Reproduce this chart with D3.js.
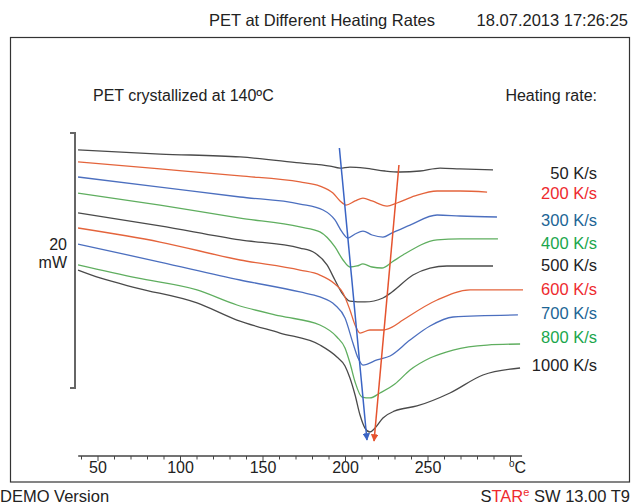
<!DOCTYPE html>
<html>
<head>
<meta charset="utf-8">
<script src="https://cdn.jsdelivr.net/npm/d3@7"></script>
<style>
  html, body { margin: 0; padding: 0; background: #fff; }
  svg { display: block; font-family: "Liberation Sans", Arial, sans-serif; }
</style>
</head>
<body>
<svg id="chart" width="634" height="504"></svg>
<script>
// ---- data (temperature in °C, heat flow in mW, curves offset for display) ----
const rateLabels = ["50 K/s", "200 K/s", "300 K/s", "400 K/s", "500 K/s", "600 K/s", "700 K/s", "800 K/s", "1000 K/s"];
const labelColors = ["#222222", "#ee2a2e", "#1c6595", "#1aa64c", "#222222", "#ee2a2e", "#1c6595", "#1aa64c", "#222222"];
const curveColors = ["#4a4a4a", "#e4643c", "#4c6fbf", "#5fae5f", "#4a4a4a", "#e4643c", "#4c6fbf", "#5fae5f", "#4a4a4a"];
const labelValues = [16.86, 15.29, 13.18, 11.37, 9.65, 7.76, 5.88, 4.0, 1.8];

const temps50 = [37.9, 87.6, 136.1, 172.4, 190.6, 196.7, 202.7, 211.8, 224.0, 233.0, 245.2, 257.3, 269.4, 289.4];
const flow50  = [18.67, 18.35, 18.12, 17.65, 17.41, 17.25, 17.33, 17.25, 17.02, 16.94, 17.02, 17.25, 17.18, 17.10];

const temps200 = [37.9, 87.6, 136.1, 172.4, 184.5, 192.4, 196.7, 200.3, 205.8, 210.6, 216.1, 225.2, 231.2, 242.1, 255.5, 269.4, 285.8];
const flow200  = [17.73, 17.18, 16.63, 16.16, 15.84, 15.29, 14.67, 14.35, 14.67, 14.90, 14.67, 14.27, 14.51, 15.06, 15.45, 15.45, 15.37];

const temps300 = [37.9, 87.6, 136.1, 172.4, 186.4, 193.6, 197.9, 201.5, 205.8, 210.6, 216.1, 222.7, 228.2, 239.1, 255.5, 269.4, 291.8];
const flow300  = [16.55, 15.76, 14.98, 14.43, 13.96, 13.18, 12.24, 11.76, 12.08, 12.31, 12.00, 11.84, 12.16, 12.78, 13.57, 13.49, 13.41];

const temps400 = [37.9, 87.6, 136.1, 172.4, 184.5, 193.6, 198.5, 202.7, 207.0, 210.6, 216.1, 222.1, 228.2, 234.8, 255.5, 269.4, 292.4];
const flow400  = [15.29, 14.35, 13.33, 12.63, 12.24, 11.06, 10.04, 9.49, 9.57, 9.73, 9.49, 9.41, 9.88, 10.43, 11.61, 11.69, 11.69];

const temps500 = [37.9, 87.6, 136.1, 172.4, 181.5, 188.8, 193.6, 197.9, 202.7, 211.8, 222.7, 228.2, 240.9, 251.2, 261.5, 289.4];
const flow500  = [13.73, 12.71, 11.61, 10.98, 10.59, 9.65, 8.47, 7.45, 6.82, 6.75, 7.06, 7.53, 8.86, 9.41, 9.57, 9.57];

const temps600 = [37.9, 87.6, 136.1, 172.4, 184.5, 193.6, 198.5, 202.7, 205.8, 208.8, 214.8, 222.7, 228.2, 234.8, 255.5, 275.5, 307.6];
const flow600  = [12.55, 11.45, 10.04, 9.25, 8.86, 8.16, 7.45, 6.12, 4.94, 4.31, 4.55, 4.55, 4.78, 5.33, 6.90, 7.69, 7.69];

const temps700 = [37.9, 87.6, 136.1, 172.4, 184.5, 193.6, 199.7, 204.5, 207.6, 210.6, 219.1, 227.0, 239.1, 251.2, 265.2, 304.5];
const flow700  = [11.29, 9.88, 8.47, 7.53, 7.14, 6.51, 5.49, 3.53, 2.35, 1.80, 2.20, 2.51, 3.76, 4.86, 5.57, 5.73];

const temps800 = [37.9, 73.6, 110.0, 134.2, 160.3, 184.5, 194.8, 199.7, 202.7, 205.8, 210.0, 214.8, 220.9, 229.9, 239.1, 251.2, 265.2, 285.8, 305.8];
const flow800  = [9.65, 8.63, 7.69, 6.51, 5.65, 4.94, 4.00, 3.14, 1.96, 0.47, -0.71, -0.78, -0.39, 0.31, 1.41, 2.35, 2.98, 3.37, 3.45];

const temps1000 = [37.9, 51.2, 73.6, 110.0, 134.2, 160.3, 184.5, 194.8, 199.7, 202.7, 205.8, 208.8, 211.8, 214.8, 217.9, 222.7, 229.9, 243.3, 263.3, 283.3, 305.8];
const flow1000  = [9.25, 8.63, 7.84, 6.67, 5.33, 4.31, 3.37, 2.43, 1.73, 0.78, -0.55, -2.12, -3.14, -3.45, -3.14, -2.35, -1.80, -1.41, -0.39, 1.02, 1.57];

const seriesTemps = [temps50, temps200, temps300, temps400, temps500, temps600, temps700, temps800, temps1000];
const seriesFlows = [flow50, flow200, flow300, flow400, flow500, flow600, flow700, flow800, flow1000];

// peak guide lines (start and end points: [°C, mW])
const guideFirstPeak = [[196.3, 18.82], [213.0, -4.08]];
const guideSecondPeak = [[232.4, 17.49], [217.3, -4.16]];

const xTickLabels = [50, 100, 150, 200, 250];
const scaleBarValue = 20;

// ---- drawing ----
const svg = d3.select("#chart");

const x = d3.scaleLinear().domain([0, 100]).range([15.5, 180.5]);
const y = d3.scaleLinear().domain([0, 20]).range([388, 133]);

// frame
svg.append("rect")
  .attr("x", 10.5).attr("y", 37.5).attr("width", 619).attr("height", 444.5)
  .attr("fill", "none").attr("stroke", "#333").attr("stroke-width", 1.2);

// header texts
svg.append("text").attr("x", 322).attr("y", 26).attr("text-anchor", "middle")
  .attr("font-size", 16.5).attr("fill", "#222").text("PET at Different Heating Rates");
svg.append("text").attr("x", 628).attr("y", 26).attr("text-anchor", "end")
  .attr("font-size", 16.5).attr("fill", "#222").text("18.07.2013 17:26:25");

// inner annotations
svg.append("text").attr("x", 93).attr("y", 101)
  .attr("font-size", 16).attr("fill", "#222").text("PET crystallized at 140ºC");
svg.append("text").attr("x", 597).attr("y", 101).attr("text-anchor", "end")
  .attr("font-size", 16).attr("fill", "#222").text("Heating rate:");

// scale bar
svg.append("path")
  .attr("d", `M70,${y(scaleBarValue)} H75 V${y(0)} H70`)
  .attr("fill", "none").attr("stroke", "#666").attr("stroke-width", 2);
svg.append("text").attr("x", 67).attr("y", 250).attr("text-anchor", "end")
  .attr("font-size", 16).attr("fill", "#222").text(String(scaleBarValue));
svg.append("text").attr("x", 67).attr("y", 268).attr("text-anchor", "end")
  .attr("font-size", 16).attr("fill", "#222").text("mW");

// curves
const line = d3.line()
  .x(d => x(d[0])).y(d => y(d[1]))
  .curve(d3.curveMonotoneX);

seriesTemps.forEach((temps, i) => {
  const pts = temps.map((t, j) => [t, seriesFlows[i][j]]);
  svg.append("path")
    .attr("d", line(pts))
    .attr("fill", "none")
    .attr("stroke", curveColors[i])
    .attr("stroke-width", 1.3)
    .attr("stroke-linejoin", "round");
});

// guide lines with arrows
const defs = svg.append("defs");
[["arrBlue", "#3a64c4"], ["arrRed", "#e5532e"]].forEach(([id, c]) => {
  defs.append("marker").attr("id", id)
    .attr("viewBox", "0 0 10 10").attr("refX", 9).attr("refY", 5)
    .attr("markerWidth", 5).attr("markerHeight", 5)
    .attr("orient", "auto-start-reverse")
    .append("path").attr("d", "M0,0 L10,5 L0,10 z").attr("fill", c);
});
const straight = d3.line().x(d => x(d[0])).y(d => y(d[1]));
svg.append("path").attr("d", straight(guideFirstPeak))
  .attr("stroke", "#3a64c4").attr("stroke-width", 1.5).attr("fill", "none")
  .attr("marker-end", "url(#arrBlue)");
svg.append("path").attr("d", straight(guideSecondPeak))
  .attr("stroke", "#e5532e").attr("stroke-width", 1.5).attr("fill", "none")
  .attr("marker-end", "url(#arrRed)");

// rate labels
rateLabels.forEach((lab, i) => {
  svg.append("text")
    .attr("x", 597).attr("y", y(labelValues[i]) + 6)
    .attr("text-anchor", "end")
    .attr("font-size", 16.5)
    .attr("fill", labelColors[i])
    .text(lab);
});

// x axis
const axisY = 456;
const axisG = svg.append("g");
axisG.append("line")
  .attr("x1", x(38)).attr("x2", x(307)).attr("y1", axisY).attr("y2", axisY)
  .attr("stroke", "#444").attr("stroke-width", 1.3);
const minorTicks = d3.range(40, 301, 10);
axisG.selectAll("line.tick").data(minorTicks).enter().append("line")
  .attr("class", "tick")
  .attr("x1", d => x(d)).attr("x2", d => x(d))
  .attr("y1", axisY).attr("y2", d => axisY + (d % 50 === 0 ? 5 : 3.5))
  .attr("stroke", "#444").attr("stroke-width", 1);
axisG.selectAll("text.lbl").data(xTickLabels).enter().append("text")
  .attr("class", "lbl")
  .attr("x", d => x(d)).attr("y", axisY + 17)
  .attr("text-anchor", "middle").attr("font-size", 16).attr("fill", "#222")
  .text(d => d);
const unit = axisG.append("text").attr("x", x(300) + 7).attr("y", axisY + 17)
  .attr("text-anchor", "middle").attr("font-size", 16).attr("fill", "#222");
unit.append("tspan").attr("font-size", 10).attr("dy", -6).text("o");
unit.append("tspan").attr("dy", 6).text("C");

// footer
svg.append("text").attr("x", 0).attr("y", 502)
  .attr("font-size", 16.5).attr("fill", "#222").text("DEMO Version");
const star = svg.append("text").attr("x", 630).attr("y", 502)
  .attr("text-anchor", "end").attr("font-size", 16.5).attr("fill", "#222");
star.append("tspan").text("S");
star.append("tspan").attr("fill", "#ee2a2e").text("TAR");
star.append("tspan").attr("fill", "#ee2a2e").attr("font-size", 11).attr("dy", -6).text("e");
star.append("tspan").attr("dy", 6).text(" SW 13.00 T9");
</script>
</body>
</html>
